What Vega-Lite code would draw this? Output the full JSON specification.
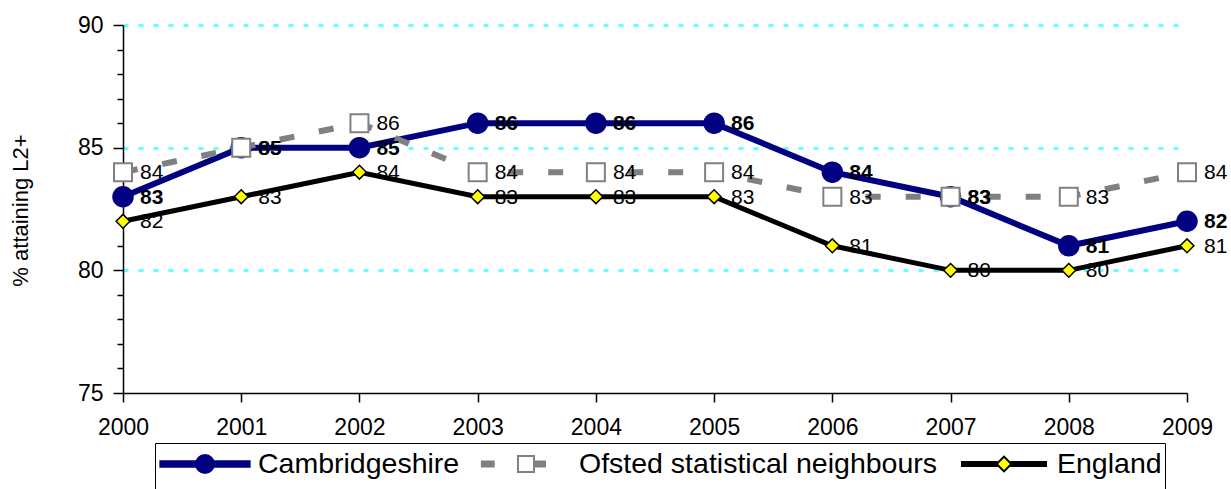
{
  "$schema": "https://vega.github.io/schema/vega-lite/v6.json",
  "width": 1064,
  "height": 368,
  "autosize": {"type": "none"},
  "padding": {"left": 123, "top": 25, "right": 44, "bottom": 96},
  "config": {
    "view": {"stroke": null},
    "font": "Liberation Sans, Arial",
    "text": {"font": "Liberation Sans, Arial"}
  },
  "data": {
    "values": [
      {"year": 2000, "series": "Cambridgeshire", "value": 83},
      {"year": 2001, "series": "Cambridgeshire", "value": 85},
      {"year": 2002, "series": "Cambridgeshire", "value": 85},
      {"year": 2003, "series": "Cambridgeshire", "value": 86},
      {"year": 2004, "series": "Cambridgeshire", "value": 86},
      {"year": 2005, "series": "Cambridgeshire", "value": 86},
      {"year": 2006, "series": "Cambridgeshire", "value": 84},
      {"year": 2007, "series": "Cambridgeshire", "value": 83},
      {"year": 2008, "series": "Cambridgeshire", "value": 81},
      {"year": 2009, "series": "Cambridgeshire", "value": 82},
      {"year": 2000, "series": "Ofsted statistical neighbours", "value": 84},
      {"year": 2001, "series": "Ofsted statistical neighbours", "value": 85},
      {"year": 2002, "series": "Ofsted statistical neighbours", "value": 86},
      {"year": 2003, "series": "Ofsted statistical neighbours", "value": 84},
      {"year": 2004, "series": "Ofsted statistical neighbours", "value": 84},
      {"year": 2005, "series": "Ofsted statistical neighbours", "value": 84},
      {"year": 2006, "series": "Ofsted statistical neighbours", "value": 83},
      {"year": 2007, "series": "Ofsted statistical neighbours", "value": 83},
      {"year": 2008, "series": "Ofsted statistical neighbours", "value": 83},
      {"year": 2009, "series": "Ofsted statistical neighbours", "value": 84},
      {"year": 2000, "series": "England", "value": 82},
      {"year": 2001, "series": "England", "value": 83},
      {"year": 2002, "series": "England", "value": 84},
      {"year": 2003, "series": "England", "value": 83},
      {"year": 2004, "series": "England", "value": 83},
      {"year": 2005, "series": "England", "value": 83},
      {"year": 2006, "series": "England", "value": 81},
      {"year": 2007, "series": "England", "value": 80},
      {"year": 2008, "series": "England", "value": 80},
      {"year": 2009, "series": "England", "value": 81}
    ]
  },
  "encoding": {
    "x": {
      "field": "year",
      "type": "quantitative",
      "scale": {"domain": [2000, 2009], "nice": false, "zero": false},
      "axis": {
        "title": null,
        "values": [2000, 2001, 2002, 2003, 2004, 2005, 2006, 2007, 2008, 2009],
        "format": "d",
        "grid": false,
        "domainColor": "#000000",
        "domainWidth": 1.5,
        "tickColor": "#000000",
        "tickWidth": 1.5,
        "tickSize": 9,
        "labelFont": "Liberation Sans, Arial",
        "labelFontSize": 23,
        "labelColor": "#000000",
        "labelPadding": 14,
        "labelFlush": false,
        "labelOverlap": false
      }
    },
    "y": {
      "field": "value",
      "type": "quantitative",
      "scale": {"domain": [75, 90], "nice": false, "zero": false},
      "axis": {
        "title": "% attaining L2+",
        "titleFont": "Liberation Sans, Arial",
        "titleFontSize": 22,
        "titleFontWeight": "normal",
        "titleColor": "#000000",
        "titleAngle": -90,
        "titleX": -103,
        "titleY": 185,
        "titleAlign": "center",
        "titleBaseline": "middle",
        "values": [75, 76, 77, 78, 79, 80, 81, 82, 83, 84, 85, 86, 87, 88, 89, 90],
        "labelExpr": "datum.value % 5 === 0 ? datum.label : ''",
        "labelFont": "Liberation Sans, Arial",
        "labelFontSize": 23,
        "labelColor": "#000000",
        "labelPadding": 10,
        "labelOverlap": false,
        "labelFlush": false,
        "domainColor": "#000000",
        "domainWidth": 1.5,
        "tickColor": "#000000",
        "tickWidth": 1.5,
        "tickSize": {"condition": {"test": "datum.value % 5 === 0", "value": 10}, "value": 6},
        "grid": true,
        "gridColor": "#66ffff",
        "gridWidth": 3,
        "gridDash": [5, 10],
        "gridOpacity": {"condition": {"test": "datum.value % 5 === 0 && datum.value > 75", "value": 1}, "value": 0}
      }
    }
  },
  "layer": [
    {
      "transform": [{"filter": "datum.series === 'Cambridgeshire'"}],
      "mark": {"type": "line", "stroke": "#000080", "strokeWidth": 6}
    },
    {
      "transform": [{"filter": "datum.series === 'Cambridgeshire'"}],
      "mark": {"type": "point", "shape": "circle", "filled": true, "fill": "#000080", "stroke": "#000080", "size": 380, "opacity": 1}
    },
    {
      "transform": [{"filter": "datum.series === 'Ofsted statistical neighbours'"}],
      "mark": {"type": "line", "stroke": "#808080", "strokeWidth": 6, "strokeDash": [15, 25]}
    },
    {
      "transform": [{"filter": "datum.series === 'Ofsted statistical neighbours'"}],
      "mark": {"type": "point", "shape": "square", "filled": true, "fill": "#ffffff", "stroke": "#808080", "strokeWidth": 2, "size": 324, "opacity": 1}
    },
    {
      "transform": [{"filter": "datum.series === 'England'"}],
      "mark": {"type": "line", "stroke": "#000000", "strokeWidth": 5}
    },
    {
      "transform": [{"filter": "datum.series === 'England'"}],
      "mark": {"type": "point", "shape": "diamond", "filled": true, "fill": "#ffff00", "stroke": "#000000", "strokeWidth": 1.5, "size": 190, "opacity": 1}
    },
    {
      "transform": [{"filter": "datum.series !== 'Cambridgeshire'"}],
      "mark": {"type": "text", "align": "left", "baseline": "middle", "dx": 17, "dy": 1, "fontSize": 21, "color": "#000000", "font": "Liberation Sans, Arial"},
      "encoding": {"text": {"field": "value", "type": "quantitative"}}
    },
    {
      "transform": [{"filter": "datum.series === 'Cambridgeshire'"}],
      "mark": {"type": "text", "align": "left", "baseline": "middle", "dx": 17, "dy": 1, "fontSize": 21, "fontWeight": "bold", "color": "#000000", "font": "Liberation Sans, Arial"},
      "encoding": {"text": {"field": "value", "type": "quantitative"}}
    },
    {
      "transform": [{"filter": "datum.value < 0"}],
      "mark": {"type": "point", "filled": true, "size": 8464, "strokeWidth": 2, "opacity": 1},
      "encoding": {
        "shape": {
          "field": "series",
          "type": "nominal",
          "scale": {
            "domain": ["Cambridgeshire", "Ofsted statistical neighbours", "England"],
            "range": [
              "M-0.97,-0.06 L0.97,-0.06 L0.97,0.06 L-0.97,0.06 Z M-0.196,0 A0.196,0.196 0 1,1 0.196,0 A0.196,0.196 0 1,1 -0.196,0 Z",
              "M-0.98,-0.054 H-0.68 M-0.98,-0.018 H-0.68 M-0.98,0.018 H-0.68 M-0.98,0.054 H-0.68 M0.196,-0.054 H0.435 M0.196,-0.018 H0.435 M0.196,0.018 H0.435 M0.196,0.054 H0.435 M-0.174,-0.174 H0.174 V0.174 H-0.174 Z",
              "M-0.935,-0.043 H-0.14 M-0.935,-0.014 H-0.14 M-0.935,0.014 H-0.14 M-0.935,0.043 H-0.14 M0.14,-0.043 H0.935 M0.14,-0.014 H0.935 M0.14,0.014 H0.935 M0.14,0.043 H0.935 M-0.16,0 L0,-0.16 L0.16,0 L0,0.16 Z"
            ]
          },
          "legend": {
            "title": " ",
            "titleOrient": "bottom",
            "titleFontSize": 14,
            "titlePadding": 2,
            "orient": "none",
            "direction": "horizontal",
            "legendX": 32,
            "legendY": 418,
            "symbolSize": 8464,
            "symbolStrokeWidth": 2,
            "clipHeight": 36,
            "labelFont": "Liberation Sans, Arial",
            "labelFontSize": 28.5,
            "labelColor": "#000000",
            "labelOffset": 6,
            "labelLimit": 0,
            "columnPadding": 19,
            "padding": 3,
            "strokeColor": "#000000",
            "encode": {"legend": {"update": {"strokeWidth": {"value": 1.5}}}}
          }
        },
        "fill": {
          "field": "series",
          "type": "nominal",
          "scale": {
            "domain": ["Cambridgeshire", "Ofsted statistical neighbours", "England"],
            "range": ["#000080", "#ffffff", "#ffff00"]
          },
          "legend": {"title": " "}
        },
        "stroke": {
          "field": "series",
          "type": "nominal",
          "scale": {
            "domain": ["Cambridgeshire", "Ofsted statistical neighbours", "England"],
            "range": ["#000080", "#808080", "#000000"]
          },
          "legend": {"title": " "}
        }
      }
    }
  ]
}
